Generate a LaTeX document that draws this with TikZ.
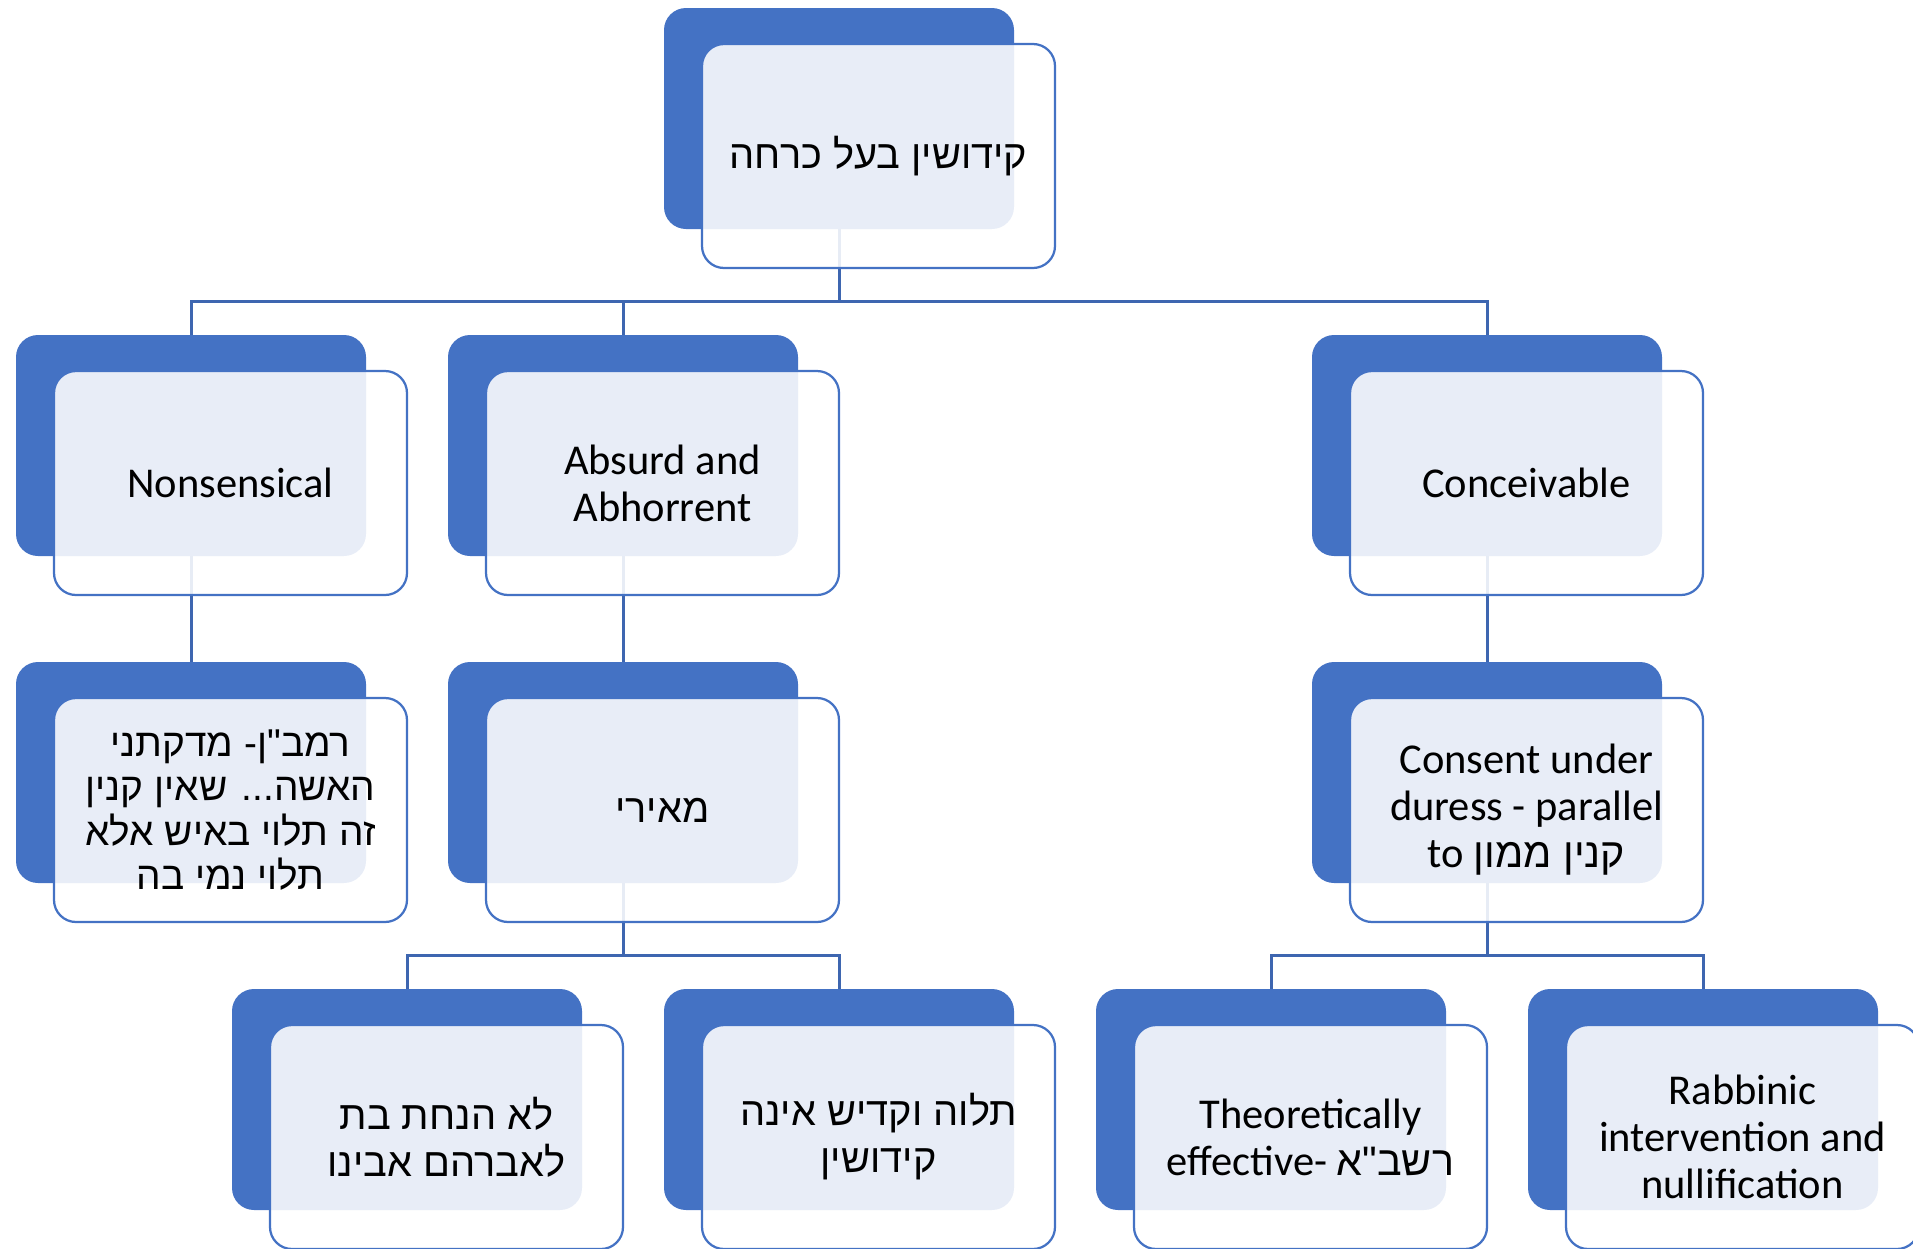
\documentclass[tikz,border=0pt]{standalone}
\usepackage{fontspec}
\setmainfont{Carlito}
\newfontfamily\heb[Script=Hebrew,Scale=0.97]{Liberation Sans}
\TeXXeTstate=1
\usetikzlibrary{calc}
\definecolor{accent}{HTML}{4472C4}
\definecolor{conncol}{HTML}{3E66B0}
\pgfdeclarelayer{bg}
\pgfsetlayers{bg,main}
\begin{document}
\begin{tikzpicture}[x=1pt,y=-1pt,
  back/.style={fill=accent, rounded corners=22pt, minimum width=350pt, minimum height=221pt,
    anchor=north west, inner sep=0pt, outer sep=0pt},
  front/.style={draw=accent, line width=2.25pt, fill=white, fill opacity=0.88, text opacity=1,
    rounded corners=22pt, minimum width=353pt, minimum height=224pt, anchor=north west,
    inner sep=0pt, outer sep=0pt, align=center, font=\fontsize{42.5pt}{47pt}\selectfont},
  hebfront/.style={front, font=\heb\fontsize{41pt}{47pt}\selectfont},
  conn/.style={draw=conncol, line width=3pt}]
\useasboundingbox (0,0) rectangle (1913,1248);
\clip (0,0) rectangle (1913,1248);
% level 0
\node[back] (b0) at (664,8) {};
\node[hebfront] (f0) at (702,44) {\beginR קידושין בעל כרחה\endR};
% level 1
\node[back] (b1) at (16,335) {};
\node[front] (f1) at (54,371) {Nonsensical};
\node[back] (b2) at (448,335) {};
\node[front] (f2) at (486,371) {Absurd and\\Abhorrent};
\node[back] (b3) at (1312,335) {};
\node[front] (f3) at (1350,371) {Conceivable};
% level 2
\node[back] (b4) at (16,662) {};
\node[hebfront, font=\heb\fontsize{40pt}{44.5pt}\selectfont] (f4) at (54,698) {\beginR רמב"ן- מדקתני\endR\\\beginR האשה... שאין קנין\endR\\\beginR זה תלוי באיש אלא\endR\\\beginR תלוי נמי בה\endR};
\node[back] (b5) at (448,662) {};
\node[hebfront] (f5) at (486,698) {\beginR מאירי\endR};
\node[back] (b6) at (1312,662) {};
\node[front] (f6) at (1350,698) {Consent under\\duress - parallel\\to {\heb\beginR קנין ממון\endR}};
% level 3
\node[back] (b7) at (232,989) {};
\node[hebfront] (f7) at (270,1025) {\beginR לא הנחת בת\endR\\\beginR לאברהם אבינו\endR};
\node[back] (b8) at (664,989) {};
\node[hebfront] (f8) at (702,1025) {\beginR תלוה וקדיש אינה\endR\\\beginR קידושין\endR};
\node[back] (b9) at (1096,989) {};
\node[front] (f9) at (1134,1025) {Theoretically\\effective- {\heb\beginR רשב"א\endR}};
\node[back] (b10) at (1528,989) {};
\node[front] (f10) at (1566,1025) {Rabbinic\\intervention and\\nullification};
% connectors
\begin{pgfonlayer}{bg}
\coordinate (bus0) at ($(f0.south)!0.5!(b1.north)$);
\draw[conn] (b0.south) -- (b0.south |- bus0) -| (b1.north);
\draw[conn] (b0.south |- bus0) -| (b2.north);
\draw[conn] (b0.south |- bus0) -| (b3.north);
\draw[conn] (b1.south) -- (b4.north);
\draw[conn] (b2.south) -- (b5.north);
\draw[conn] (b3.south) -- (b6.north);
\coordinate (bus5) at ($(f5.south)!0.5!(b7.north)$);
\draw[conn] (b5.south) -- (b5.south |- bus5) -| (b7.north);
\draw[conn] (b5.south |- bus5) -| (b8.north);
\coordinate (bus6) at ($(f6.south)!0.5!(b9.north)$);
\draw[conn] (b6.south) -- (b6.south |- bus6) -| (b9.north);
\draw[conn] (b6.south |- bus6) -| (b10.north);
\end{pgfonlayer}
\end{tikzpicture}
\end{document}
